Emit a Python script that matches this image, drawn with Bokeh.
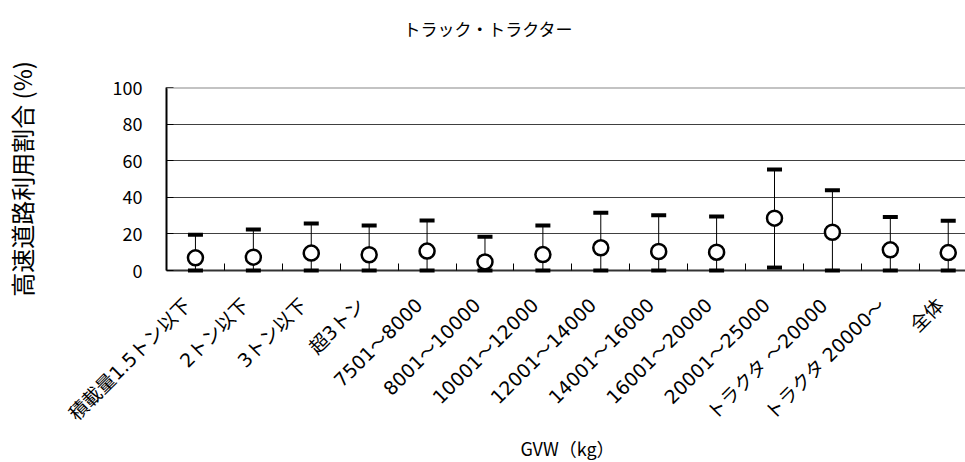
from bokeh.plotting import figure
from bokeh.models import Range1d, FixedTicker, Span, Title
from bokeh.embed import file_html
from bokeh.resources import INLINE
from math import pi

categories = ["積載量1.5トン以下", "2トン以下", "3トン以下", "超3トン", "7501～8000",
              "8001～10000", "10001～12000", "12001～14000", "14001～16000",
              "16001～20000", "20001～25000", "トラクタ ～20000", "トラクタ 20000～", "全体"]
mean_vals = [6.9, 7.3, 9.5, 8.6, 10.6, 4.7, 8.7, 12.4, 10.4, 10.0, 28.6, 20.9, 11.3, 9.8]
upper_vals = [19.5, 22.4, 25.7, 24.6, 27.3, 18.4, 24.6, 31.5, 30.2, 29.5, 55.2, 43.9, 29.3, 27.2]
lower_vals = [0, 0, 0, 0, 0, 0, 0, 0, 0, 0, 1.6, 0, 0, 0]
y_ticks = [0, 20, 40, 60, 80, 100]

FONT = "Noto Sans CJK JP"
TICKFONT = "DejaVu Sans, 'Noto Sans CJK JP'"
LABEL_SHIFT = 0.14  # rotated labels end slightly left of the category centre
xs = [i + 0.5 for i in range(len(categories))]
label_pos = [x - LABEL_SHIFT for x in xs]

p = figure(frame_width=802, frame_height=183, output_backend="svg", toolbar_location=None,
           x_range=Range1d(0, 13.85), y_range=Range1d(0, 100),
           min_border_left=161, min_border_right=0, min_border_top=87, min_border_bottom=190)
p.title = None
# spacer (closest to the plot), then the real title above it
p.add_layout(Title(text=" ", standoff=20, text_font=FONT, text_font_size="17px"), "above")
p.add_layout(Title(text="トラック・トラクター", align="left", offset=237, standoff=0,
                   text_font=FONT, text_font_size="17px", text_font_style="normal",
                   text_color="black"), "above")
p.outline_line_color = None
p.background_fill_color = "white"

# x axis
p.xaxis.ticker = FixedTicker(ticks=label_pos, minor_ticks=list(range(1, len(categories))))
p.xaxis.major_label_overrides = {x: c for x, c in zip(label_pos, categories)}
p.xaxis.major_label_orientation = pi / 4
p.xaxis.major_tick_line_color = None
p.xaxis.minor_tick_in = 7
p.xaxis.minor_tick_out = 0
p.xaxis.minor_tick_line_color = "black"
p.xaxis.axis_line_color = "#333333"
p.xaxis.axis_line_width = 2
p.xaxis.major_label_text_font = TICKFONT
p.xaxis.major_label_text_font_size = "19px"
p.xaxis.major_label_text_color = "black"
p.xaxis.major_label_standoff = 25
p.xaxis.axis_label = "GVW（kg）"
p.xaxis.axis_label_text_font = FONT
p.xaxis.axis_label_text_font_size = "18px"
p.xaxis.axis_label_text_font_style = "normal"
p.xaxis.axis_label_text_color = "black"
p.xaxis.axis_label_standoff = 0

# y axis
p.yaxis.ticker = FixedTicker(ticks=y_ticks)
p.yaxis.minor_tick_line_color = None
p.yaxis.major_tick_in = 7
p.yaxis.major_tick_out = 0
p.yaxis.major_tick_line_color = "black"
p.yaxis.axis_line_color = "black"
p.yaxis.axis_line_width = 2
p.yaxis.major_label_text_font = FONT
p.yaxis.major_label_text_font_size = "18px"
p.yaxis.major_label_text_color = "black"
p.yaxis.major_label_standoff = 24
p.yaxis.axis_label = "高速道路利用割合 (%)"
p.yaxis.axis_label_text_font = FONT
p.yaxis.axis_label_text_font_size = "24px"
p.yaxis.axis_label_text_font_style = "normal"
p.yaxis.axis_label_text_color = "black"
p.yaxis.axis_label_standoff = 71

p.xgrid.grid_line_color = None
p.ygrid.ticker = FixedTicker(ticks=y_ticks)
p.ygrid.grid_line_color = "#404040"
p.ygrid.grid_line_width = 1
p.add_layout(Span(location=100, dimension="width", line_color="#888888", line_width=2))

# error bars and means
p.segment(x0=xs, y0=lower_vals, x1=xs, y1=upper_vals, line_color="black", line_width=1)
p.scatter(x=xs, y=upper_vals, marker="dash", size=15, line_width=4, line_color="black")
p.scatter(x=xs, y=lower_vals, marker="dash", size=15, line_width=4, line_color="black",
          level="overlay")
p.scatter(x=xs, y=mean_vals, marker="circle", size=15, line_width=2.5,
          line_color="black", fill_color="white")

open("out.html", "w").write(file_html(p, INLINE))
